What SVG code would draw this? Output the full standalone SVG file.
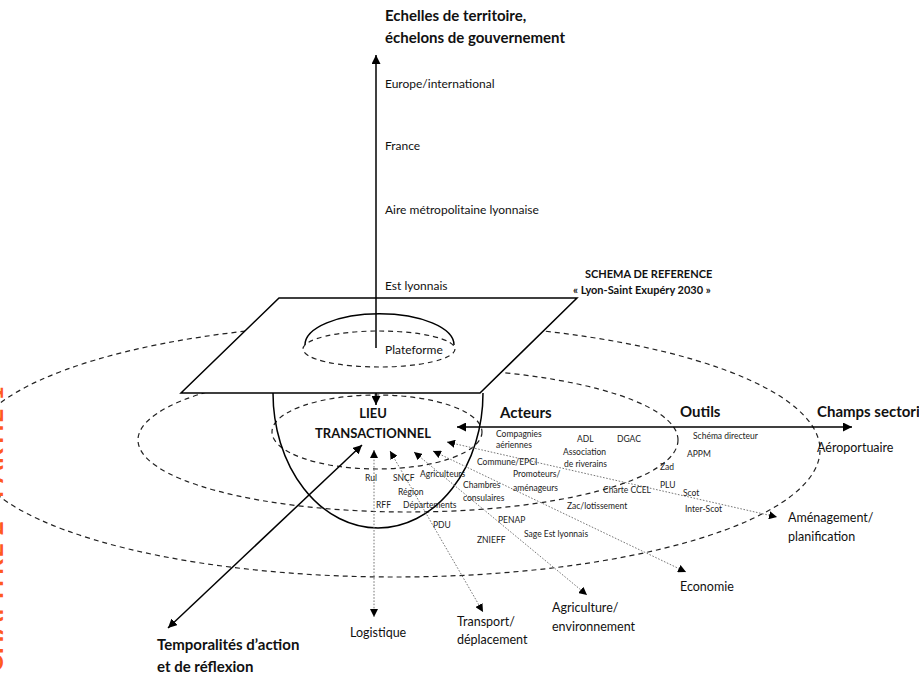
<svg xmlns="http://www.w3.org/2000/svg" width="919" height="675" viewBox="0 0 919 675">
<style>
.f{font-family:Lato,"Liberation Sans",sans-serif;fill:#111}
.b{font-weight:bold}
.ax{font-size:12px}
.ttl{font-size:15px;font-weight:bold}
.s{font-size:8.5px;fill:#222}
.dash{fill:none;stroke:#222;stroke-width:1.2;stroke-dasharray:5 4}
.solid{fill:none;stroke:#000;stroke-width:1.5}
.dot{fill:none;stroke:#777;stroke-width:1;stroke-dasharray:1.6 1.6}
</style>
<defs>
<marker id="ah" viewBox="0 0 10 10" refX="10" refY="5" markerWidth="9" markerHeight="9" markerUnits="userSpaceOnUse" orient="auto-start-reverse"><path d="M0,0 L10,5 L0,10 z" fill="#000"/></marker>
<marker id="ahs" viewBox="0 0 10 10" refX="10" refY="5" markerWidth="8" markerHeight="8" markerUnits="userSpaceOnUse" orient="auto-start-reverse"><path d="M0,0 L10,5 L0,10 z" fill="#000"/></marker>
</defs>
<rect width="919" height="675" fill="#fff"/>
<text class="f b" transform="translate(3,672) rotate(-90)" style="font-size:25px;fill:#ff5a1f;letter-spacing:1px">CHAPITRE 2 · PARTIE 1</text>

<g id="territoires">
<ellipse class="dash" cx="395" cy="450" rx="425" ry="127"/>
<ellipse class="dash" cx="408" cy="440" rx="270" ry="72"/>
<ellipse class="dash" cx="377" cy="432" rx="105" ry="37"/>
</g>

<g id="schema-reference">
<polygon points="279,298 577,298 480,393 181,393" fill="#fff" stroke="#000" stroke-width="1.5"/>
<path class="solid" d="M305,345 A74 31 0 0 1 454,345"/>
<ellipse class="dash" cx="379" cy="349" rx="76" ry="18"/>
<text class="f b" x="585" y="278" style="font-size:11px">SCHEMA DE REFERENCE</text>
<text class="f b" x="573" y="294" style="font-size:11px">« Lyon-Saint Exupéry 2030 »</text>
</g>

<g id="lieu-transactionnel">
<path class="solid" d="M273,393 A105 135 0 0 0 483,393"/>
<text class="f b" x="373" y="418" text-anchor="middle" style="font-size:13px">LIEU</text>
<text class="f b" x="373" y="438" text-anchor="middle" style="font-size:13px">TRANSACTIONNEL</text>
</g>

<g id="connectors">
<line class="solid" x1="376" y1="348" x2="376" y2="55" marker-end="url(#ah)"/>
<line class="solid" x1="376" y1="393" x2="376" y2="405" marker-end="url(#ah)"/>
<line class="solid" x1="457" y1="427" x2="852" y2="427" marker-start="url(#ah)" marker-end="url(#ah)"/>
<line class="solid" x1="168" y1="628" x2="362" y2="445" marker-start="url(#ah)" marker-end="url(#ah)"/>
<line class="dot" x1="374" y1="450" x2="374" y2="617" marker-start="url(#ahs)" marker-end="url(#ahs)"/>
<line class="dot" x1="390" y1="451" x2="483" y2="612" marker-start="url(#ahs)" marker-end="url(#ahs)"/>
<line class="dot" x1="414" y1="452" x2="587" y2="595" marker-start="url(#ahs)" marker-end="url(#ahs)"/>
<line class="dot" x1="433" y1="451" x2="686" y2="572" marker-start="url(#ahs)" marker-end="url(#ahs)"/>
<line class="dot" x1="447" y1="442" x2="777" y2="517" marker-start="url(#ahs)" marker-end="url(#ahs)"/>
</g>

<g id="echelles">
<text class="f ttl" x="385" y="21">Echelles de territoire,</text>
<text class="f ttl" x="385" y="43">échelons de gouvernement</text>
<text class="f ax" x="385" y="88">Europe/international</text>
<text class="f ax" x="385" y="150">France</text>
<text class="f ax" x="385" y="214">Aire métropolitaine lyonnaise</text>
<text class="f ax" x="385" y="290">Est lyonnais</text>
<text class="f ax" x="385" y="354">Plateforme</text>
</g>

<g id="axes-titres">
<text class="f ttl" x="500" y="418">Acteurs</text>
<text class="f ttl" x="680" y="417">Outils</text>
<text class="f ttl" x="817" y="417">Champs sectoriels</text>
<text class="f ttl" x="157" y="650">Temporalités d’action</text>
<text class="f ttl" x="157" y="672">et de réflexion</text>
</g>

<g id="acteurs-outils">
<text class="f s" x="365" y="481">Rul</text>
<text class="f s" x="393" y="481">SNCF</text>
<text class="f s" x="420" y="477">Agriculteurs</text>
<text class="f s" x="398" y="495">Région</text>
<text class="f s" x="376" y="508">RFF</text>
<text class="f s" x="403" y="508">Départements</text>
<text class="f s" x="433" y="528">PDU</text>
<text class="f s" x="496" y="437">Compagnies</text>
<text class="f s" x="496" y="448">aériennes</text>
<text class="f s" x="577" y="442">ADL</text>
<text class="f s" x="617" y="442">DGAC</text>
<text class="f s" x="563" y="455">Association</text>
<text class="f s" x="564" y="467">de riverains</text>
<text class="f s" x="477" y="465">Commune/EPCI</text>
<text class="f s" x="513" y="477">Promoteurs/</text>
<text class="f s" x="513" y="491">aménageurs</text>
<text class="f s" x="463" y="488">Chambres</text>
<text class="f s" x="463" y="501">consulaires</text>
<text class="f s" x="603" y="493">Charte CCEL</text>
<text class="f s" x="567" y="509">Zac/lotissement</text>
<text class="f s" x="498" y="523">PENAP</text>
<text class="f s" x="524" y="537">Sage Est lyonnais</text>
<text class="f s" x="477" y="543">ZNIEFF</text>
<text class="f s" x="693" y="439">Schéma directeur</text>
<text class="f s" x="687" y="457">APPM</text>
<text class="f s" x="660" y="470">Zad</text>
<text class="f s" x="660" y="488">PLU</text>
<text class="f s" x="683" y="496">Scot</text>
<text class="f s" x="685" y="512">Inter-Scot</text>
</g>

<g id="champs">
<text class="f ax" x="817" y="452" style="font-size:12.5px">Aéroportuaire</text>
<text class="f ax" x="788" y="522" style="font-size:12.5px">Aménagement/</text>
<text class="f ax" x="788" y="541" style="font-size:12.5px">planification</text>
<text class="f ax" x="680" y="591" style="font-size:12.5px">Economie</text>
<text class="f ax" x="552" y="612" style="font-size:12.5px">Agriculture/</text>
<text class="f ax" x="552" y="631" style="font-size:12.5px">environnement</text>
<text class="f ax" x="457" y="626" style="font-size:12.5px">Transport/</text>
<text class="f ax" x="457" y="644" style="font-size:12.5px">déplacement</text>
<text class="f ax" x="350" y="637" style="font-size:12.5px">Logistique</text>
</g>
</svg>
